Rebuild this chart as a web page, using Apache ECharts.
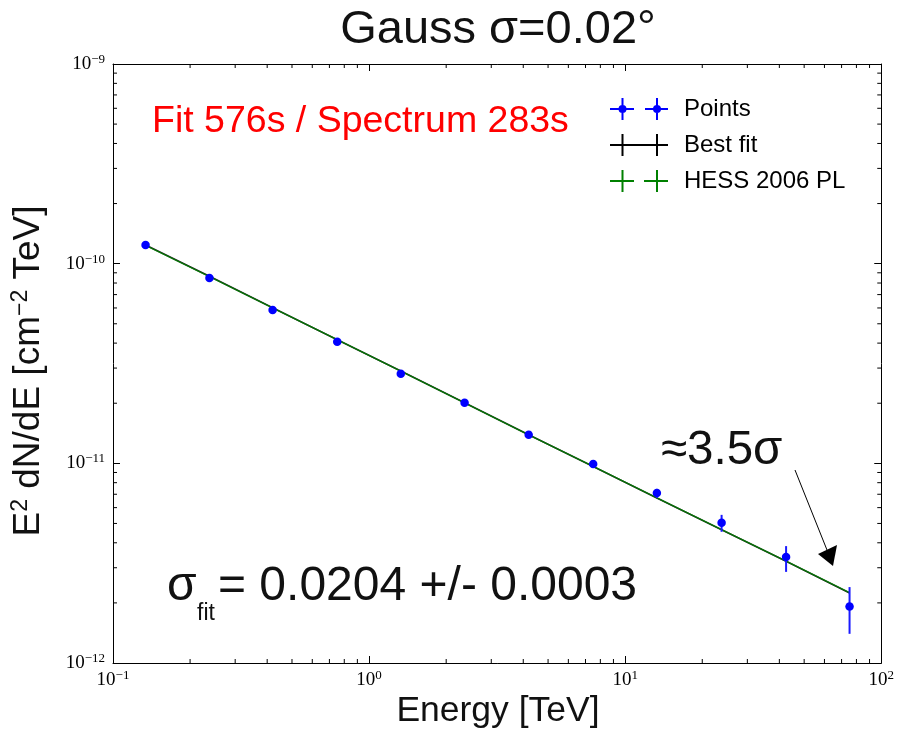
<!DOCTYPE html>
<html><head><meta charset="utf-8">
<script src="https://cdn.jsdelivr.net/npm/echarts@6/dist/echarts.min.js"></script>
<style>html,body{margin:0;padding:0;background:#fff;overflow:hidden}#c{width:897px;height:732px}</style>
</head><body><div id="c"></div>
<script>
// ---- data ----
const energy   = [0.134, 0.238, 0.42, 0.751, 1.33, 2.36, 4.2, 7.5, 13.3, 23.8, 42.5, 75.2];
const flux     = [1.24e-10, 8.47e-11, 5.86e-11, 4.06e-11, 2.81e-11, 2.01e-11, 1.39e-11, 9.93e-12, 7.1e-12, 5.04e-12, 3.40e-12, 1.92e-12];
const fluxLow  = [1.21e-10, 8.30e-11, 5.74e-11, 3.97e-11, 2.74e-11, 1.96e-11, 1.35e-11, 9.6e-12, 6.71e-12, 4.54e-12, 2.86e-12, 1.40e-12];
const fluxHigh = [1.27e-10, 8.65e-11, 5.98e-11, 4.15e-11, 2.88e-11, 2.06e-11, 1.43e-11, 1.03e-11, 7.45e-12, 5.52e-12, 3.85e-12, 2.40e-12];
const bestFit  = [1.24e-10, 8.65e-11, 6.01e-11, 4.16e-11, 2.90e-11, 2.01e-11, 1.39e-11, 9.64e-12, 6.71e-12, 4.65e-12, 3.23e-12, 2.24e-12];
const hessPL   = [1.235e-10, 8.62e-11, 6.00e-11, 4.16e-11, 2.90e-11, 2.01e-11, 1.39e-11, 9.65e-12, 6.72e-12, 4.66e-12, 3.24e-12, 2.25e-12];
const xMinorTicks = [0.2,0.3,0.4,0.5,0.6,0.7,0.8,0.9, 2,3,4,5,6,7,8,9, 20,30,40,50,60,70,80,90];
const yMinorTicks = [2e-12,3e-12,4e-12,5e-12,6e-12,7e-12,8e-12,9e-12, 2e-11,3e-11,4e-11,5e-11,6e-11,7e-11,8e-11,9e-11, 2e-10,3e-10,4e-10,5e-10,6e-10,7e-10,8e-10,9e-10];
const X_MIN = 0.1, X_MAX = 100, Y_MIN = 1e-12, Y_MAX = 1e-9;
const legendNames = ['Points', 'Best fit', 'HESS 2006 PL'];

const chart = echarts.init(document.getElementById('c'), null, {renderer: 'canvas'});

const sans = 'Liberation Sans';
const serif = 'Liberation Serif';
function tickFmt(v) {
  const e = Math.round(Math.log10(v));
  return '{b|10}{s|' + (e < 0 ? '\u2212' + (-e) : e) + '}';
}
const tickRich = {
  b: {fontSize: 19, fontFamily: serif, color: '#000', lineHeight: 22},
  s: {fontSize: 13, fontFamily: serif, color: '#000', verticalAlign: 'top', lineHeight: 12}
};

const ICON_PTS = 'path://M0 10H24V12H0Z M35 10H58V12H35Z M11.5 0H13.5V22H11.5Z M46 0H48V22H46Z M8.5 11a4 4 0 1 1 8 0a4 4 0 1 1 -8 0Z M43 11a4 4 0 1 1 8 0a4 4 0 1 1 -8 0Z';
const ICON_FIT = 'path://M0 10H58V12H0Z M11.5 0H13.5V22H11.5Z M46 0H48V22H46Z';
const ICON_GAP = 'path://M0 10H24V12H0Z M34 10H58V12H34Z M11.5 0H13.5V22H11.5Z M46 0H48V22H46Z';

function minorRender(isX) {
  return function (params, api) {
    const L = 4;
    if (isX) {
      const v = api.value(0);
      const b = api.coord([v, Y_MIN]), t = api.coord([v, Y_MAX]);
      return {type: 'group', children: [
        {type: 'line', shape: {x1: b[0], y1: b[1], x2: b[0], y2: b[1] - L}, style: {stroke: '#000', lineWidth: 1}},
        {type: 'line', shape: {x1: t[0], y1: t[1], x2: t[0], y2: t[1] + L}, style: {stroke: '#000', lineWidth: 1}}
      ]};
    } else {
      const v = api.value(1);
      const l = api.coord([X_MIN, v]), r = api.coord([X_MAX, v]);
      return {type: 'group', children: [
        {type: 'line', shape: {x1: l[0], y1: l[1], x2: l[0] + L, y2: l[1]}, style: {stroke: '#000', lineWidth: 1}},
        {type: 'line', shape: {x1: r[0], y1: r[1], x2: r[0] - L, y2: r[1]}, style: {stroke: '#000', lineWidth: 1}}
      ]};
    }
  };
}

const axisCommon = {
  type: 'log', logBase: 10,
  axisLine: {show: true, onZero: false, lineStyle: {color: '#000', width: 1}},
  axisTick: {show: true, inside: true, length: 7, lineStyle: {color: '#000', width: 1}},
  splitLine: {show: false}
};

const option = {
  backgroundColor: '#fff',
  animation: false,
  grid: {left: 113, right: 10, top: 64, bottom: 69, containLabel: false},
  xAxis: [
    Object.assign({}, axisCommon, {min: X_MIN, max: X_MAX, position: 'bottom',
      axisLabel: {formatter: tickFmt, rich: tickRich, margin: 6}}),
    Object.assign({}, axisCommon, {min: X_MIN, max: X_MAX, position: 'top', axisLabel: {show: false}})
  ],
  yAxis: [
    Object.assign({}, axisCommon, {min: Y_MIN, max: Y_MAX, position: 'left',
      axisLabel: {formatter: tickFmt, rich: tickRich, margin: 8}}),
    Object.assign({}, axisCommon, {min: Y_MIN, max: Y_MAX, position: 'right', axisLabel: {show: false}})
  ],
  legend: {
    orient: 'vertical', left: 610, top: 97, padding: 0,
    itemWidth: 58, itemHeight: 22, itemGap: 12, selectedMode: false,
    symbolKeepAspect: true,
    itemStyle: {borderWidth: 0},
    textStyle: {fontSize: 24, fontFamily: sans, color: '#000', padding: [0, 0, 0, 11]},
    data: [
      {name: legendNames[0], icon: ICON_PTS},
      {name: legendNames[1], icon: ICON_FIT},
      {name: legendNames[2], icon: ICON_GAP}
    ]
  },
  series: [
    {type: 'custom', name: 'xminor', silent: true, xAxisIndex: 0, yAxisIndex: 0,
      data: xMinorTicks.map(v => [v, Y_MIN]), renderItem: minorRender(true), z: 1},
    {type: 'custom', name: 'yminor', silent: true, xAxisIndex: 0, yAxisIndex: 0,
      data: yMinorTicks.map(v => [X_MIN, v]), renderItem: minorRender(false), z: 1},
    {type: 'line', name: legendNames[1], data: energy.map((e, i) => [e, bestFit[i]]),
      showSymbol: false, symbol: 'none', color: '#000',
      itemStyle: {color: '#000'}, lineStyle: {color: '#222', width: 1.6}, z: 3},
    {type: 'line', name: legendNames[2], data: energy.map((e, i) => [e, hessPL[i]]),
      showSymbol: false, symbol: 'none', color: '#008000',
      itemStyle: {color: '#008000'}, lineStyle: {color: '#008000', width: 1.4, opacity: 0.85}, z: 4},
    {type: 'custom', name: 'errors', silent: true,
      data: energy.map((e, i) => [e, fluxLow[i], fluxHigh[i]]),
      encode: {x: 0, y: [1, 2]},
      renderItem: function (params, api) {
        const lo = api.coord([api.value(0), api.value(1)]);
        const hi = api.coord([api.value(0), api.value(2)]);
        return {type: 'line', shape: {x1: lo[0], y1: lo[1], x2: hi[0], y2: hi[1]},
          style: {stroke: '#1a1aff', lineWidth: 2}};
      }, z: 5},
    {type: 'scatter', name: legendNames[0], data: energy.map((e, i) => [e, flux[i]]),
      symbol: 'circle', symbolSize: 8.5, color: '#0000ff',
      itemStyle: {color: '#0000ff', opacity: 1}, z: 6}
  ],
  graphic: [
    {type: 'text', x: 498, y: 30, style: {text: 'Gauss \u03c3=0.02\u00b0', fontSize: 47, fontFamily: sans, fill: '#111', align: 'center', verticalAlign: 'middle'}},
    {type: 'text', x: 152, y: 122, style: {text: 'Fit 576s / Spectrum 283s', fontSize: 37.5, fontFamily: sans, fill: '#ff0000', align: 'left', verticalAlign: 'middle'}},
    {type: 'text', x: 661, y: 451, style: {text: '\u22483.5\u03c3', fontSize: 47.5, fontFamily: sans, fill: '#111', align: 'left', verticalAlign: 'middle'}},
    {type: 'text', x: 167, y: 587, style: {text: '\u03c3', fontSize: 48, fontFamily: sans, fill: '#111', align: 'left', verticalAlign: 'middle'}},
    {type: 'text', x: 197, y: 614, style: {text: 'fit', fontSize: 23, fontFamily: sans, fill: '#111', align: 'left', verticalAlign: 'middle'}},
    {type: 'text', x: 218, y: 587, style: {text: '= 0.0204 +/- 0.0003', fontSize: 48, fontFamily: sans, fill: '#111', align: 'left', verticalAlign: 'middle'}},
    {type: 'text', x: 498, y: 711, style: {text: 'Energy [TeV]', fontSize: 35.5, fontFamily: sans, fill: '#111', align: 'center', verticalAlign: 'middle'}},
    {type: 'text', x: 29, y: 371, rotation: Math.PI / 2,
      style: {text: '{m|E}{u|2}{m| dN/dE [cm}{u|\u22122}{m| TeV]}', align: 'center', verticalAlign: 'middle',
        rich: {m: {fontSize: 37, fontFamily: sans, fill: '#111', lineHeight: 40},
               u: {fontSize: 23, fontFamily: sans, fill: '#111', verticalAlign: 'top', lineHeight: 23}}}},
    {type: 'line', shape: {x1: 795, y1: 470, x2: 829, y2: 555}, style: {stroke: '#000', lineWidth: 1}},
    {type: 'polygon', shape: {points: [[818, 554], [837, 545], [833, 566]]}, style: {fill: '#000'}}
  ]
};
chart.setOption(option);
</script>
</body></html>
